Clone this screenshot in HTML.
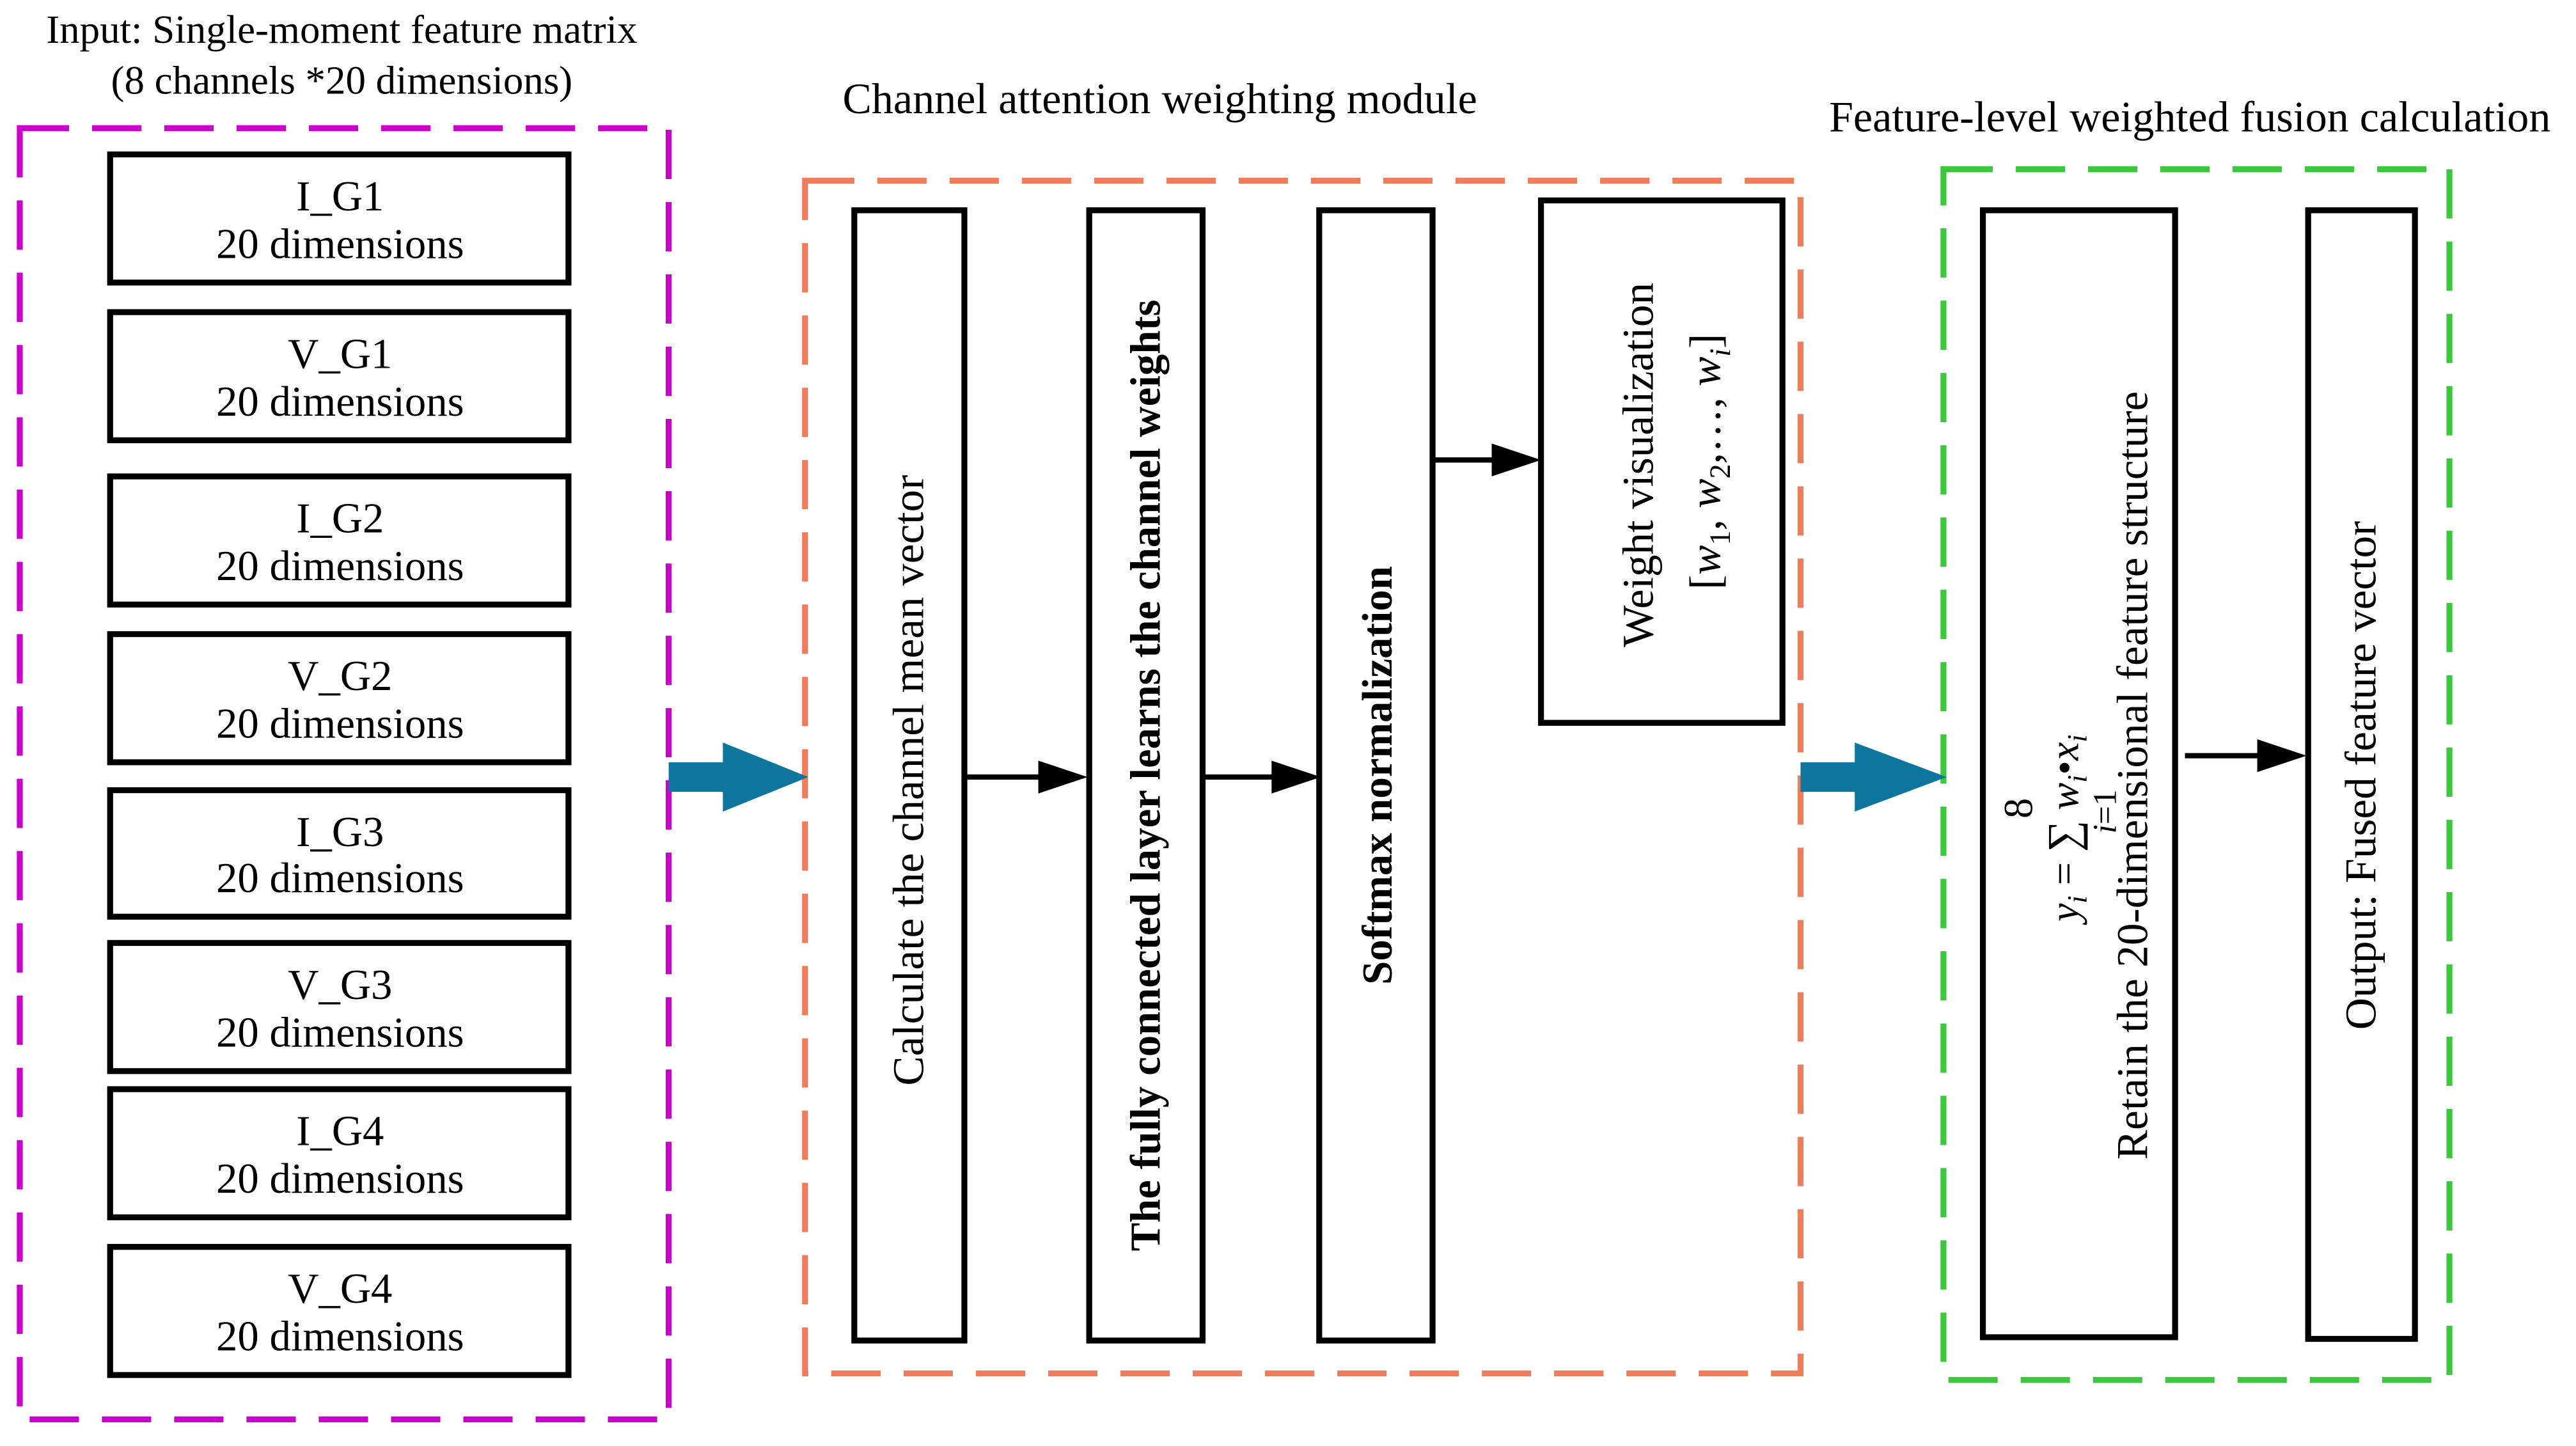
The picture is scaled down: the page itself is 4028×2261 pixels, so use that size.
<!DOCTYPE html>
<html><head><meta charset="utf-8"><style>
html,body{margin:0;padding:0;background:#fff;}
svg{display:block;}
text{font-family:"Liberation Serif",serif;fill:#000;}
</style></head><body>
<svg width="4028" height="2261" viewBox="0 0 1568 880.2" xmlns="http://www.w3.org/2000/svg">
<!-- titles -->
<text x="208" y="26" font-size="24.5" text-anchor="middle">Input: Single-moment feature matrix</text>
<text x="208" y="57" font-size="24.5" text-anchor="middle">(8 channels *20 dimensions)</text>
<text x="706" y="69" font-size="26.5" text-anchor="middle">Channel attention weighting module</text>
<text x="1333" y="80" font-size="26.5" text-anchor="middle">Feature-level weighted fusion calculation</text>

<!-- dashed containers -->
<rect x="12" y="78" width="395" height="786" fill="none" stroke="#cc00cc" stroke-width="3.6" stroke-dasharray="30,14"/>
<rect x="490" y="110" width="606" height="726" fill="none" stroke="#f07c5a" stroke-width="3.6" stroke-dasharray="30,14"/>
<rect x="1183" y="103" width="308" height="737" fill="none" stroke="#3cc83c" stroke-width="3.6" stroke-dasharray="30,14"/>

<!-- input boxes -->
<g fill="#fff" stroke="#000" stroke-width="3.6">
<rect x="67" y="94" width="279" height="78"/>
<rect x="67" y="190" width="279" height="78"/>
<rect x="67" y="290" width="279" height="78"/>
<rect x="67" y="386" width="279" height="78"/>
<rect x="67" y="481" width="279" height="77"/>
<rect x="67" y="574" width="279" height="78"/>
<rect x="67" y="663" width="279" height="78"/>
<rect x="67" y="759" width="279" height="78"/>
</g>
<g font-size="26" text-anchor="middle">
<text x="207" y="128">I_G1</text><text x="207" y="157">20 dimensions</text>
<text x="207" y="224">V_G1</text><text x="207" y="253">20 dimensions</text>
<text x="207" y="324">I_G2</text><text x="207" y="353">20 dimensions</text>
<text x="207" y="420">V_G2</text><text x="207" y="449">20 dimensions</text>
<text x="207" y="515">I_G3</text><text x="207" y="543">20 dimensions</text>
<text x="207" y="608">V_G3</text><text x="207" y="637">20 dimensions</text>
<text x="207" y="697">I_G4</text><text x="207" y="726">20 dimensions</text>
<text x="207" y="793">V_G4</text><text x="207" y="822">20 dimensions</text>
</g>

<!-- blue arrows -->
<g fill="#0e769c">
<rect x="407" y="464" width="36" height="18"/>
<polygon points="440,452 492,473 440,494"/>
<rect x="1096" y="464" width="36" height="18"/>
<polygon points="1129,452 1185,473 1129,494"/>
</g>

<!-- boxes -->
<g fill="#fff" stroke="#000" stroke-width="3.6">
<rect x="520" y="128" width="67" height="688"/>
<rect x="663" y="128" width="69" height="688"/>
<rect x="803" y="128" width="69" height="688"/>
<rect x="938" y="122" width="147" height="318"/>
<rect x="1207" y="128" width="117" height="686"/>
<rect x="1405" y="128" width="65" height="687"/>
</g>

<!-- black arrows -->
<g stroke="#000" stroke-width="3.2">
<line x1="587" y1="473" x2="640" y2="473"/>
<line x1="732" y1="473" x2="782" y2="473"/>
<line x1="872" y1="280" x2="916" y2="280"/>
<line x1="1330" y1="460" x2="1382" y2="460"/>
</g>
<g fill="#000">
<polygon points="632,463 662,473 632,483"/>
<polygon points="774,463 804,473 774,483"/>
<polygon points="908,270 938,280 908,290"/>
<polygon points="1374,450 1404,460 1374,470"/>
</g>

<!-- rotated texts -->
<g font-size="27" text-anchor="middle">
<text transform="translate(562,475) rotate(-90)">Calculate the channel mean vector</text>
<text transform="translate(706,472) rotate(-90)" font-size="26" font-weight="bold">The fully connected layer learns the channel weights</text>
<text transform="translate(847,472) rotate(-90)" font-size="26" font-weight="bold">Softmax normalization</text>
<text transform="translate(1006,283) rotate(-90)">Weight visualization</text>
<text transform="translate(1047,281) rotate(-90)">[<tspan font-style="italic">w</tspan><tspan font-size="18" dy="6">1</tspan><tspan dy="-6">, </tspan><tspan font-style="italic">w</tspan><tspan font-size="18" dy="6">2</tspan><tspan dy="-6">,…, </tspan><tspan font-style="italic">w</tspan><tspan font-size="18" font-style="italic" dy="6">i</tspan><tspan dy="-6">]</tspan></text>
<text transform="translate(1307,472) rotate(-90)">Retain the 20-dimensional feature structure</text>
<text transform="translate(1446,472) rotate(-90)">Output: Fused feature vector</text>
</g>
<!-- formula -->
<g font-size="25">
<text transform="translate(1237,492) rotate(-90)" text-anchor="middle">8</text>
<text transform="translate(1265,561) rotate(-90)"><tspan font-style="italic">y</tspan><tspan font-size="17" font-style="italic" dy="5">i</tspan><tspan dy="-5"> = </tspan><tspan font-size="27">∑</tspan><tspan> </tspan><tspan font-style="italic">w</tspan><tspan font-size="17" font-style="italic" dy="5">i</tspan><tspan dy="-5">•</tspan><tspan font-style="italic">x</tspan><tspan font-size="17" font-style="italic" dy="5">i</tspan></text>
<text transform="translate(1288,494) rotate(-90)" text-anchor="middle" font-size="20"><tspan font-style="italic">i</tspan>=1</text>
</g>
</svg>
</body></html>
